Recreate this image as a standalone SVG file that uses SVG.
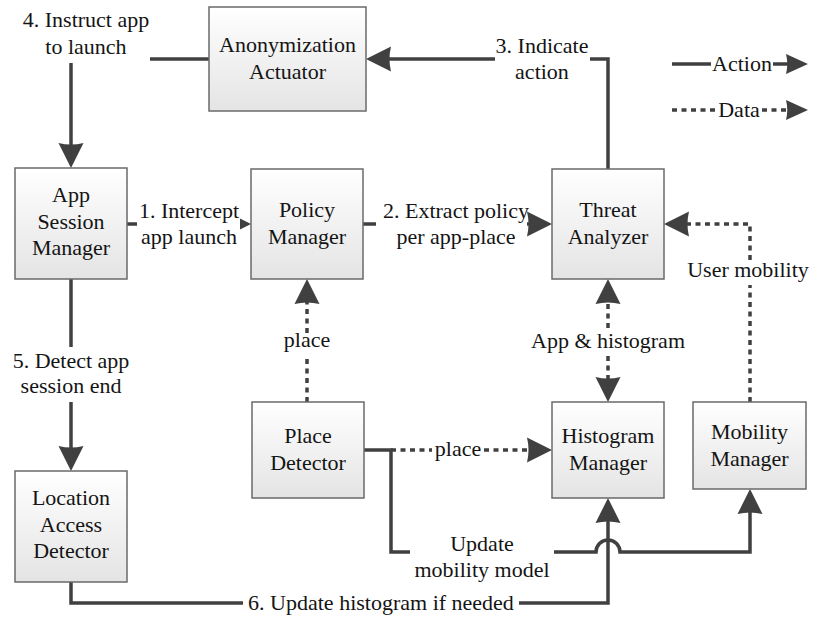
<svg xmlns="http://www.w3.org/2000/svg" width="814" height="618" viewBox="0 0 814 618">
  <defs>
    <linearGradient id="boxFill" x1="0" y1="0" x2="0" y2="1">
      <stop offset="0" stop-color="#ffffff"/>
      <stop offset="1" stop-color="#e4e4e4"/>
    </linearGradient>
    <!-- arrowhead: tip sits 4px beyond the path end -->
    <marker id="arrow" markerUnits="userSpaceOnUse" markerWidth="26" markerHeight="26" viewBox="0 -13 26 26" refX="21" refY="0" orient="auto">
      <path d="M0,-12.5 L25,0 L0,12.5 Q3,0 0,-12.5 Z" fill="#404040"/>
    </marker>
    <marker id="arrowSmall" markerUnits="userSpaceOnUse" markerWidth="24" markerHeight="24" viewBox="0 -12 24 24" refX="18" refY="0" orient="auto">
      <path d="M0,-10 L22,0 L0,10 Q2.5,0 0,-10 Z" fill="#404040"/>
    </marker>
  </defs>
  <style>
    .box { fill: url(#boxFill); stroke: #6a6a6a; stroke-width: 1.5; }
    .action { fill: none; stroke: #404040; stroke-width: 3.5; }
    .data { fill: none; stroke: #404040; stroke-width: 3.5; stroke-dasharray: 5 4.5; }
    .t { font-family: Liberation Serif, Times New Roman, serif; font-size: 22px; fill: #141414; text-anchor: middle; }
  </style>
  <rect width="814" height="618" fill="#ffffff"/>

  <!-- connectors -->
  <g id="connectors">
    <!-- 4. Instruct app to launch -->
    <path class="action" d="M209,59 H150"/>
    <path class="action" d="M71,63 V164" marker-end="url(#arrow)"/>
    <!-- 1. Intercept app launch -->
    <path class="action" d="M127,224 H137"/>
    <polygon points="251,224 240,218.5 240,229.5" fill="#404040"/>
    <!-- 2. Extract policy per app-place -->
    <path class="action" d="M363,224 H376"/>
    <path class="action" d="M527,224 H548" marker-end="url(#arrow)"/>
    <!-- 3. Indicate action -->
    <path class="action" d="M608,169 V59 H590"/>
    <path class="action" d="M495,59 H370" marker-end="url(#arrow)"/>
    <!-- 5. Detect app session end -->
    <path class="action" d="M71,279 V347"/>
    <path class="action" d="M71,402 V467" marker-end="url(#arrow)"/>
    <!-- 6. Update histogram if needed -->
    <path class="action" d="M71,582 V603 H243"/>
    <path class="action" d="M519,603 H608 V502" marker-end="url(#arrow)"/>
    <!-- Update mobility model (hops over connector 6) -->
    <path class="action" d="M364,450 H391 V552 H410"/>
    <path class="action" d="M554,552 H596 A12,12 0 0 1 620,552 H750 V493" marker-end="url(#arrow)"/>
    <!-- place: Place Detector to Policy Manager -->
    <path class="data" d="M307,402 V356"/>
    <path class="data" d="M307,333 V283" marker-end="url(#arrow)"/>
    <!-- place: Place Detector to Histogram Manager -->
    <path class="data" d="M391,450 H432"/>
    <path class="data" d="M484,450 H548" marker-end="url(#arrow)"/>
    <!-- App & histogram (both ways) -->
    <path class="data" d="M608,328 V283" marker-end="url(#arrow)"/>
    <path class="data" d="M608,356 V398" marker-end="url(#arrow)"/>
    <!-- User mobility -->
    <path class="data" d="M750,402 V285"/>
    <path class="data" d="M750,260 V224 H668" marker-end="url(#arrow)"/>
    <!-- legend -->
    <path class="action" d="M672,64 H711"/>
    <path class="action" d="M773,64 H804" marker-end="url(#arrowSmall)"/>
    <path class="data" d="M672,110 H716"/>
    <path class="data" d="M762,110 H804" marker-end="url(#arrowSmall)"/>
  </g>

  <!-- connector labels -->
  <g id="labels">
    <text class="t" x="86" y="27">4. Instruct app</text>
    <text class="t" x="86" y="54">to launch</text>
    <text class="t" x="189" y="218">1. Intercept</text>
    <text class="t" x="189" y="244">app launch</text>
    <text class="t" x="456" y="218">2. Extract policy</text>
    <text class="t" x="456" y="244">per app-place</text>
    <text class="t" x="542" y="53">3. Indicate</text>
    <text class="t" x="542" y="79">action</text>
    <text class="t" x="71" y="368">5. Detect app</text>
    <text class="t" x="71" y="393">session end</text>
    <text class="t" x="381" y="610">6. Update histogram if needed</text>
    <text class="t" x="482" y="551">Update</text>
    <text class="t" x="482" y="577">mobility model</text>
    <text class="t" x="307" y="347">place</text>
    <text class="t" x="458" y="456">place</text>
    <text class="t" x="608" y="348">App &amp; histogram</text>
    <text class="t" x="748" y="277">User mobility</text>
    <text class="t" x="742" y="71">Action</text>
    <text class="t" x="739" y="117">Data</text>
  </g>

  <!-- nodes -->
  <g id="anonymization-actuator">
    <rect class="box" x="209" y="7" width="157" height="104"/>
    <text class="t" x="287.5" y="52">Anonymization</text>
    <text class="t" x="287.5" y="79">Actuator</text>
  </g>
  <g id="app-session-manager">
    <rect class="box" x="15" y="168" width="112" height="111"/>
    <text class="t" x="71" y="202">App</text>
    <text class="t" x="71" y="228.5">Session</text>
    <text class="t" x="71" y="255">Manager</text>
  </g>
  <g id="policy-manager">
    <rect class="box" x="251" y="169" width="112" height="110"/>
    <text class="t" x="307" y="217">Policy</text>
    <text class="t" x="307" y="244">Manager</text>
  </g>
  <g id="threat-analyzer">
    <rect class="box" x="552" y="169" width="112" height="110"/>
    <text class="t" x="608" y="217">Threat</text>
    <text class="t" x="608" y="244">Analyzer</text>
  </g>
  <g id="place-detector">
    <rect class="box" x="252" y="402" width="112" height="96"/>
    <text class="t" x="308" y="443">Place</text>
    <text class="t" x="308" y="470">Detector</text>
  </g>
  <g id="histogram-manager">
    <rect class="box" x="552" y="402" width="112" height="96"/>
    <text class="t" x="608" y="443">Histogram</text>
    <text class="t" x="608" y="470">Manager</text>
  </g>
  <g id="mobility-manager">
    <rect class="box" x="693" y="402" width="113" height="87"/>
    <text class="t" x="749.5" y="439">Mobility</text>
    <text class="t" x="749.5" y="466">Manager</text>
  </g>
  <g id="location-access-detector">
    <rect class="box" x="15" y="471" width="112" height="111"/>
    <text class="t" x="71" y="505">Location</text>
    <text class="t" x="71" y="532">Access</text>
    <text class="t" x="71" y="558">Detector</text>
  </g>
</svg>
